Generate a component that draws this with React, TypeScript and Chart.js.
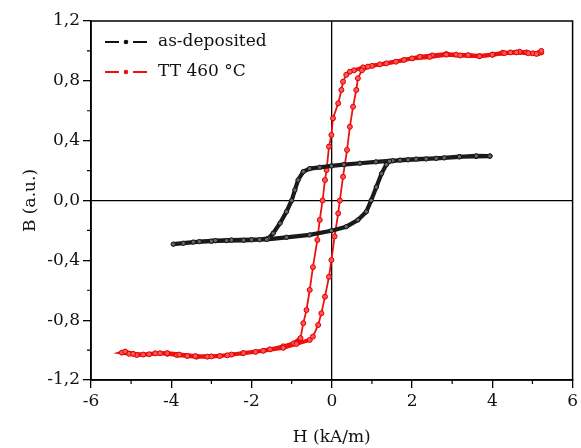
import React, { useEffect, useRef } from "react";
import { Chart, registerables } from "chart.js";

Chart.register(...registerables);

// ---- data ----
const asDepH = [
  3.94, 3.6, 3.18, 2.8, 2.35, 1.9, 1.52, 1.1, 0.7, 0.3, -0.01, -0.3, -0.55, -0.71, -0.84, -0.92, -1.0, -1.13, -1.29, -1.46, -1.58, -1.8, -2.2, -2.62, -3.0, -3.45, -3.95,
  -3.7, -3.3, -2.9, -2.5, -2.0, -1.62, -1.13, -0.55, -0.01, 0.36, 0.65, 0.86, 0.98, 1.11, 1.24, 1.36, 1.44, 1.7, 2.1, 2.6, 3.18, 3.6, 3.94,
];
const asDepB = [
  0.297, 0.295, 0.293, 0.285, 0.278, 0.272, 0.266, 0.258, 0.249, 0.24, 0.231, 0.222, 0.213, 0.193, 0.137, 0.07, 0.0, -0.075, -0.152, -0.219, -0.253, -0.262, -0.266, -0.268, -0.272, -0.278, -0.292,
  -0.286, -0.275, -0.268, -0.264, -0.262, -0.26, -0.246, -0.23, -0.202, -0.175, -0.13, -0.075, 0.0, 0.09, 0.18, 0.24, 0.262, 0.27, 0.277, 0.282, 0.292, 0.298, 0.297,
];

const tt460H = [
  5.22, 5.15, 5.01, 4.85, 4.68, 4.45, 4.26, 4.0, 3.68, 3.4, 3.1, 2.85, 2.5, 2.19, 1.8, 1.36, 1.0, 0.78, 0.55, 0.45, 0.36, 0.28, 0.24, 0.16, 0.03, -0.01, -0.07, -0.13, -0.17, -0.23,
  -0.3, -0.36, -0.47, -0.55, -0.63, -0.71, -0.78, -0.95, -1.21, -1.54, -1.9, -2.21, -2.5, -2.79, -3.1, -3.37, -3.6, -3.86, -4.1, -4.28, -4.55, -4.86, -5.05, -5.23,
  -5.15, -4.95, -4.7, -4.4, -4.1, -3.8, -3.4, -3.0, -2.6, -2.2, -1.71, -1.21, -0.88, -0.55, -0.47, -0.34, -0.26, -0.17, -0.07, -0.01, 0.07, 0.16, 0.2, 0.28, 0.38, 0.45, 0.53, 0.61, 0.65,
  0.75, 0.9, 1.2, 1.6, 2.0, 2.44, 2.85, 3.2, 3.68, 4.0, 4.3, 4.6, 4.9, 5.1, 5.22,
];
const tt460B = [
  0.99, 0.985, 0.984, 0.99, 0.995, 0.99, 0.988, 0.975, 0.966, 0.972, 0.975, 0.979, 0.97, 0.961, 0.94, 0.917, 0.9, 0.89, 0.87, 0.861, 0.84, 0.794, 0.739, 0.65, 0.55, 0.438, 0.36, 0.204, 0.137, 0.0,
  -0.13, -0.264, -0.446, -0.598, -0.732, -0.82, -0.92, -0.955, -0.975, -0.995, -1.012, -1.021, -1.03, -1.04, -1.044, -1.044, -1.04, -1.033, -1.025, -1.021, -1.028, -1.033, -1.025, -1.017,
  -1.01, -1.025, -1.03, -1.022, -1.02, -1.03, -1.04, -1.042, -1.035, -1.02, -1.005, -0.985, -0.959, -0.932, -0.91, -0.832, -0.754, -0.643, -0.51, -0.398, -0.24, -0.086, 0.0, 0.159, 0.338, 0.493, 0.627, 0.739, 0.817,
  0.87, 0.895, 0.91, 0.928, 0.95, 0.96, 0.975, 0.97, 0.964, 0.975, 0.985, 0.99, 0.985, 0.98, 1.0,
];

const seriesNames = ["as-deposited", "TT 460 °C"];
const seriesColors = ["#111111", "#ee1111"];

const xTickValues = [-6, -4, -2, 0, 2, 4, 6];
const xTickLabels = ["-6", "-4", "-2", "0", "2", "4", "6"];
const xMinorTicks = [-5, -3, -1, 1, 3, 5];
const yTickValues = [-1.2, -0.8, -0.4, 0, 0.4, 0.8, 1.2];
const yTickLabels = ["-1,2", "-0,8", "-0,4", "0,0", "0,4", "0,8", "1,2"];
const yMinorTicks = [-1.0, -0.6, -0.2, 0.2, 0.6, 1.0];

const xTitle = "H (kA/m)";
const yTitle = "B (a.u.)";

const FONT = '"DejaVu Serif", serif';

const toPoints = (xs: number[], ys: number[]) => xs.map((x, i) => ({ x, y: ys[i] }));

const flatWidth = (thick: number, thin: number) => (c: any) => {
  const dx = Math.abs(c.p1.x - c.p0.x);
  const dy = Math.abs(c.p1.y - c.p0.y);
  return dy < dx ? thick : thin;
};

const framePlugin = {
  id: "frame",
  afterDraw(chart: any) {
    const { ctx, chartArea: a, scales } = chart;
    ctx.save();
    ctx.strokeStyle = "#000";
    ctx.lineWidth = 1.5;
    ctx.strokeRect(a.left, a.top, a.right - a.left, a.bottom - a.top);
    ctx.lineWidth = 1.2;
    ctx.beginPath();
    xMinorTicks.forEach((v) => {
      const px = scales.x.getPixelForValue(v);
      ctx.moveTo(px, a.bottom);
      ctx.lineTo(px, a.bottom + 4);
    });
    yMinorTicks.forEach((v) => {
      const py = scales.y.getPixelForValue(v);
      ctx.moveTo(a.left, py);
      ctx.lineTo(a.left - 4, py);
    });
    ctx.stroke();
    ctx.font = "17px " + FONT;
    ctx.textBaseline = "middle";
    ctx.textAlign = "left";
    seriesNames.forEach((name, i) => {
      const y = 42 + i * 30;
      const c = seriesColors[i];
      ctx.strokeStyle = c;
      ctx.lineWidth = 2;
      ctx.beginPath();
      ctx.moveTo(105, y);
      ctx.lineTo(119, y);
      ctx.moveTo(133, y);
      ctx.lineTo(147, y);
      ctx.stroke();
      ctx.fillStyle = c;
      ctx.beginPath();
      ctx.arc(126, y, 2.3, 0, Math.PI * 2);
      ctx.fill();
      ctx.fillStyle = "#111";
      ctx.fillText(name, 158, y);
    });
    ctx.restore();
  },
};

export default function App() {
  const ref = useRef<HTMLCanvasElement | null>(null);
  useEffect(() => {
    if (!ref.current) return;
    const chart = new Chart(ref.current, {
      type: "scatter",
      data: {
        datasets: [
          {
            label: seriesNames[0],
            data: toPoints(asDepH, asDepB),
            showLine: true,
            borderColor: "#1a1a1a",
            borderWidth: 4.2,
            pointRadius: 2.2,
            pointBackgroundColor: "#666",
            pointBorderColor: "#111",
            pointBorderWidth: 1,
          },
          {
            label: seriesNames[1],
            data: toPoints(tt460H, tt460B),
            showLine: true,
            borderColor: "#ee1111",
            borderWidth: 1.8,
            segment: { borderWidth: flatWidth(4, 1.8) },
            pointRadius: 2.5,
            pointBackgroundColor: "#ff5555",
            pointBorderColor: "#dd0000",
            pointBorderWidth: 1,
          },
        ],
      },
      options: {
        responsive: false,
        animation: false,
        devicePixelRatio: 1,
        layout: { padding: { left: 0, top: 21, right: 8, bottom: 0 } },
        plugins: { legend: { display: false }, tooltip: { enabled: false } },
        scales: {
          x: {
            type: "linear",
            min: -6,
            max: 6,
            afterBuildTicks: (s: any) => {
              s.ticks = xTickValues.map((v) => ({ value: v }));
            },
            afterFit: (s: any) => {
              s.height = 68;
            },
            ticks: {
              color: "#111",
              font: { family: FONT, size: 17 },
              padding: 3,
              maxRotation: 0,
              callback: (_v: any, i: number) => xTickLabels[i],
            },
            grid: {
              color: (c: any) => (c.tick && c.tick.value === 0 ? "#000" : "rgba(0,0,0,0)"),
              lineWidth: 1.3,
              tickColor: "#000",
              tickLength: 8,
              tickWidth: 1.3,
            },
            border: { display: true, color: "#000", width: 1.5 },
            title: {
              display: true,
              text: xTitle,
              color: "#111",
              font: { family: FONT, size: 17 },
              padding: { top: 0, bottom: 0 },
            },
          },
          y: {
            type: "linear",
            min: -1.2,
            max: 1.2,
            afterBuildTicks: (s: any) => {
              s.ticks = yTickValues.map((v) => ({ value: v }));
            },
            afterFit: (s: any) => {
              s.width = 91;
            },
            ticks: {
              color: "#111",
              font: { family: FONT, size: 17 },
              padding: 3,
              callback: (_v: any, i: number) => yTickLabels[i],
            },
            grid: {
              color: (c: any) => (c.tick && Math.abs(c.tick.value) < 1e-9 ? "#000" : "rgba(0,0,0,0)"),
              lineWidth: 1.3,
              tickColor: "#000",
              tickLength: 8,
              tickWidth: 1.3,
            },
            border: { display: true, color: "#000", width: 1.5 },
            title: {
              display: true,
              text: yTitle,
              color: "#111",
              font: { family: FONT, size: 17 },
              padding: { top: 20, bottom: 0 },
            },
          },
        },
      },
      plugins: [framePlugin],
    } as any);
    return () => chart.destroy();
  }, []);
  return (
    <div style={{ position: "fixed", left: 0, top: 0, width: 581, height: 448, background: "#fff" }}>
      <canvas ref={ref} width={581} height={448} />
    </div>
  );
}
